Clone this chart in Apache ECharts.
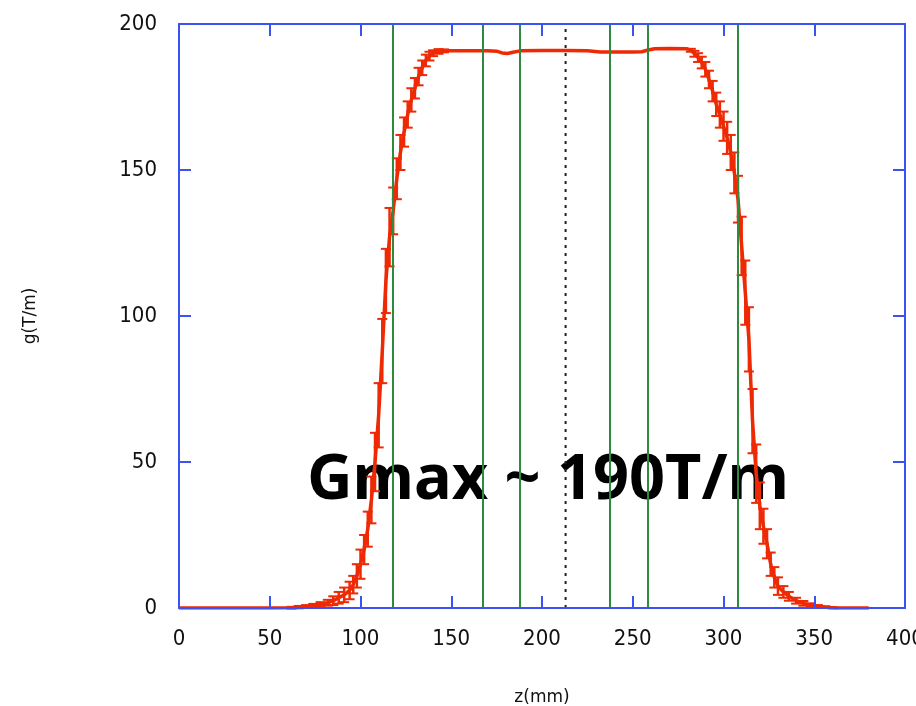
<!DOCTYPE html>
<html>
<head>
<meta charset="utf-8">
<script src="https://cdn.jsdelivr.net/npm/echarts@6/dist/echarts.min.js"></script>
<style>
html,body{margin:0;padding:0;background:#fff;overflow:hidden;}
#chart{width:916px;height:706px;}
</style>
</head>
<body>
<div id="chart"></div>
<script>
// z positions (mm)
var zVals = [0, 10, 20, 30, 40, 50, 62, 66, 70, 74,
             78, 82, 85, 88, 91, 94, 96, 98, 100, 102,
             104, 106, 108, 110, 112, 114, 116, 118, 120, 122,
             124, 126, 128, 130, 132, 134, 136, 138, 140, 143,
             146, 150, 160, 170, 175, 178, 181, 184, 188, 200,
             213, 225, 232, 240, 250, 255, 258, 262, 270, 280,
             282, 284, 286, 288, 290, 292, 294, 296, 298, 300,
             302, 304, 306, 308, 310, 312, 314, 316, 318, 320,
             322, 324, 326, 328, 330, 333, 336, 340, 344, 348,
             352, 356, 360, 362, 370, 380];
// gradient g (T/m)
var gVals = [0, 0, 0, 0, 0, 0, 0.1, 0.3, 0.5, 0.8,
             1.2, 1.8, 2.5, 3.5, 4.5, 6, 8, 11, 15, 20,
             27, 37, 50, 66, 88, 112, 127, 136, 147, 156,
             163, 169, 174, 178, 182, 185, 187.5, 189, 190, 190.6,
             190.8, 190.8, 190.8, 190.8, 190.7, 190.1, 189.9, 190.3, 190.8, 190.9,
             190.9, 190.8, 190.4, 190.4, 190.4, 190.5, 191, 191.5, 191.6, 191.5,
             191, 189.8, 188.5, 186.8, 184.5, 181, 177, 172.5, 169, 165,
             161, 156, 149, 140, 124, 108, 92, 64, 46, 35,
             28, 22, 15, 10.5, 7.5, 5.5, 4, 2.5, 1.6, 1,
             0.6, 0.3, 0.1, 0, 0, 0];
// error (T/m)
var errVals = [0, 0, 0, 0, 0, 0, 0.3, 0.4, 0.5, 0.6,
               0.8, 1, 1.5, 2, 2.5, 3, 3, 4, 5, 5,
               6, 8, 10, 11, 11, 11, 10, 8, 7, 6,
               5, 4.5, 4, 3.5, 3, 2.5, 2, 1.5, 1, 0.8,
               0.5, 0, 0, 0, 0, 0, 0, 0, 0, 0,
               0, 0, 0, 0, 0, 0, 0, 0, 0, 0,
               0.5, 1, 1.5, 2, 2.5, 3, 3.5, 4, 4.5, 5,
               5.5, 6, 7, 8, 10, 11, 11, 11, 10, 8,
               6, 5, 4, 3.5, 3, 2, 1.5, 1, 0.8, 0.6,
               0.4, 0.3, 0.2, 0, 0, 0];
var greenLines = [117.5, 167.5, 188, 237.5, 258, 308];
var centerLine = 213;
var annotation = 'Gmax ~ 190T/m';

var lineData = zVals.map(function(z, i){ return [z, gVals[i]]; });
var errData = zVals.map(function(z, i){ return [z, gVals[i], errVals[i]]; });

var RED = '#ee2a05', BLUE = '#3a52f2', GREEN = '#2e8b3e';
var tickFont = {fontFamily: '"DejaVu Sans Condensed", "Liberation Sans Narrow", sans-serif', fontSize: 22, color: '#111'};

var chart = echarts.init(document.getElementById('chart'), null, {renderer: 'canvas'});
function axisCommon(extra){
  return Object.assign({
    min: 0,
    axisLine: {show: true, onZero: false, lineStyle: {color: BLUE, width: 2}},
    axisTick: {show: true, inside: true, length: 12, lineStyle: {color: BLUE, width: 2}},
    splitLine: {show: false}
  }, extra);
}
chart.setOption({
  animation: false,
  backgroundColor: '#fff',
  grid: {left: 179, right: 11, top: 24, bottom: 98, containLabel: false, outerBoundsMode: 'none'},
  xAxis: [
    axisCommon({
      type: 'value', max: 400, interval: 50, position: 'bottom', z: 5,
      axisLabel: Object.assign({margin: 20}, tickFont),
      name: 'z(mm)', nameLocation: 'middle', nameGap: 81,
      nameTextStyle: {fontFamily: 'DejaVu Sans', fontSize: 17, color: '#111'}
    }),
    axisCommon({
      type: 'value', max: 400, interval: 50, position: 'top', z: 5,
      axisLabel: {show: false}
    })
  ],
  yAxis: [
    axisCommon({
      type: 'value', max: 200, interval: 50, position: 'left', z: 5,
      axisLabel: Object.assign({margin: 22}, tickFont),
      name: 'g(T/m)', nameLocation: 'middle', nameGap: 140, nameRotate: 90,
      nameTextStyle: {fontFamily: 'DejaVu Sans', fontSize: 17, color: '#111'}
    }),
    axisCommon({
      type: 'value', max: 200, interval: 50, position: 'right', z: 5,
      axisLabel: {show: false}
    })
  ],
  graphic: [{
    type: 'text', left: 307, top: 450, z: 0,
    style: {text: annotation, fill: '#000', font: 'bold 63px "Noto Sans", "Open Sans", sans-serif'}
  }],
  series: [
    {
      type: 'line', data: [[centerLine, 0], [centerLine, 200]], symbol: 'none', z: 3,
      lineStyle: {color: '#222', width: 2, type: [3, 5]}, silent: true
    },
    {
      type: 'line', data: [], symbol: 'none', z: 3, silent: true,
      markLine: {
        symbol: 'none', silent: true, label: {show: false},
        lineStyle: {color: GREEN, width: 2, type: 'solid'},
        data: greenLines.map(function(v){ return {xAxis: v}; })
      }
    },
    {
      type: 'line', data: lineData, symbol: 'none', z: 4,
      lineStyle: {color: RED, width: 3.5}
    },
    {
      type: 'custom', data: errData, z: 4,
      renderItem: function(params, api){
        var e = api.value(2);
        if (!e) return null;
        var x = api.value(0), y = api.value(1);
        var top = api.coord([x, y + e]);
        var bot = api.coord([x, y - e]);
        var hw = 5;
        return {
          type: 'group',
          children: [
            {type: 'line', shape: {x1: top[0], y1: top[1], x2: bot[0], y2: bot[1]}, style: {stroke: RED, lineWidth: 2.5}},
            {type: 'line', shape: {x1: top[0]-hw, y1: top[1], x2: top[0]+hw, y2: top[1]}, style: {stroke: RED, lineWidth: 2}},
            {type: 'line', shape: {x1: bot[0]-hw, y1: bot[1], x2: bot[0]+hw, y2: bot[1]}, style: {stroke: RED, lineWidth: 2}}
          ]
        };
      }
    }
  ]
});
</script>
</body>
</html>
